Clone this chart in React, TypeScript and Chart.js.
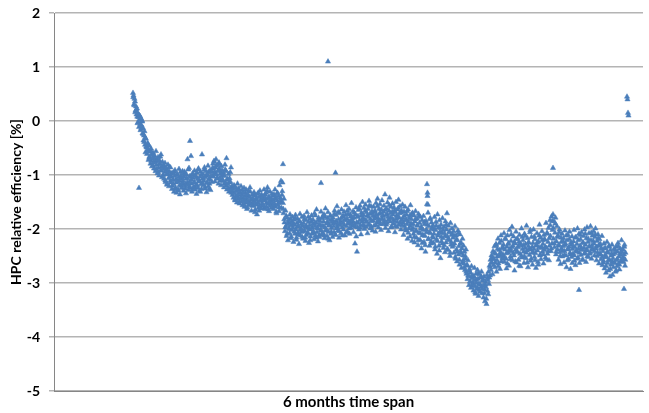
import React, { useEffect, useRef } from "react";
import { Chart, registerables } from "chart.js";

Chart.register(...registerables);

const yTicks = [-5, -4, -3, -2, -1, 0, 1, 2];
const xAxisTitle = "6 months time span";
const yAxisTitle = "HPC relative efficiency [%]";

// main series: two samples per time step
const efficiency = [
  0.52, 0.47, 0.31, 0.41, 0.36, 0.19, 0.27, 0.12, 0.23, -0.04, 0.14, 0.07, -0.11, 0.03, 0.09, -0.17, 0.05, -0.08, 0.01, -0.23,
  -0.13, -0.36, -0.27, -0.19, -0.44, -0.58, -0.33, -0.49, -0.61, -0.41, -0.53, -0.72, -0.46, -0.66, -0.57, -0.79, -0.51, -0.63, -0.84, -0.69,
  -0.59, -0.77, -0.88, -0.64, -0.71, -0.93, -0.56, -0.81, -0.74, -0.97, -0.67, -0.86, -1.01, -0.73, -0.79, -0.91, -0.62, -0.85, -1.04, -0.76,
  -0.89, -0.83, -1.07, -0.95, -0.78, -1.13, -0.87, -0.99, -1.18, -0.92, -0.81, -1.06, -1.21, -0.94, -1.03, -0.86, -1.14, -0.97, -1.26, -1.09,
  -0.96, -1.17, -1.31, -1.02, -0.91, -1.23, -1.08, -1.33, -0.98, -1.12, -1.27, -1.04, -0.89, -1.19, -1.36, -1.07, -1.01, -1.24, -1.15, -0.93,
  -1.11, -1.29, -1.03, -0.94, -1.21, -1.16, -1.34, -0.99, -1.06, -0.71, -1.19, -1.28, -0.87, -1.13, -1.02, -1.24, -0.65, -1.09, -1.31, -0.97,
  -1.05, -1.22, -1.14, -0.92, -1.27, -1.01, -1.18, -1.35, -0.96, -1.08, -1.24, -0.88, -1.12, -1.29, -1.03, -0.94, -1.17, -1.26, -0.62, -1.07,
  -0.98, -1.19, -1.11, -0.86, -1.25, -1.04, -0.93, -1.32, -1.14, -0.99, -0.83, -1.21, -1.07, -1.16, -0.91, -1.28, -1.02, -0.95, -1.13, -0.87,
  -0.79, -1.03, -0.74, -0.94, -1.12, -0.86, -0.71, -0.99, -1.07, -0.82, -0.93, -1.16, -0.77, -0.89, -1.04, -0.97, -1.19, -0.84, -0.91, -1.08,
  -1.11, -0.96, -1.23, -1.02, -0.81, -1.14, -0.93, -0.69, -1.27, -1.09, -1.17, -0.98, -1.31, -1.06, -1.24, -1.13, -0.86, -1.29, -1.21, -1.37,
  -1.26, -1.42, -1.19, -1.34, -1.47, -1.23, -1.39, -1.29, -1.51, -1.16, -1.36, -1.44, -1.27, -1.53, -1.31, -1.41, -1.21, -1.49, -1.37, -1.56,
  -1.33, -1.47, -1.24, -1.59, -1.39, -1.51, -1.27, -1.43, -1.63, -1.36, -1.49, -1.29, -1.56, -1.41, -1.23, -1.53, -1.45, -1.66, -1.37, -1.52,
  -1.43, -1.57, -1.32, -1.49, -1.69, -1.38, -1.54, -1.46, -1.73, -1.35, -1.51, -1.61, -1.41, -1.58, -1.29, -1.47, -1.62, -1.37, -1.53, -1.44,
  -1.39, -1.56, -1.27, -1.47, -1.63, -1.43, -1.33, -1.59, -1.45, -1.23, -1.53, -1.41, -1.67, -1.49, -1.31, -1.57, -1.43, -1.61, -1.35, -1.51,
  -1.46, -1.63, -1.36, -1.53, -1.27, -1.59, -1.41, -1.71, -1.47, -1.33, -1.56, -1.39, -1.67, -1.19, -1.51, -1.45, -1.11, -1.61, -1.37, -1.14,
  -1.52, -1.71, -1.44, -1.88, -2.04, -1.66, -1.95, -2.13, -1.79, -1.91, -2.21, -1.84, -1.99, -2.08, -1.73, -1.93, -2.17, -1.86, -2.02, -1.78,
  -1.97, -2.24, -1.83, -1.92, -2.09, -1.74, -2.01, -2.16, -1.89, -1.81, -2.07, -1.95, -2.28, -1.86, -1.72, -2.12, -1.99, -2.05, -1.78, -1.94,
  -2.18, -1.89, -1.76, -2.03, -1.96, -2.22, -1.84, -2.11, -1.69, -1.98, -2.07, -1.87, -2.26, -1.93, -1.81, -2.14, -2.01, -1.75, -2.09, -1.91,
  -1.83, -2.04, -2.19, -1.71, -1.95, -2.12, -1.88, -1.64, -2.06, -1.99, -2.23, -1.79, -1.92, -2.15, -1.85, -2.02, -1.68, -2.10, -1.94, -1.77,
  -2.08, -1.86, -1.73, -2.17, -1.97, -1.62, -2.01, -1.90, -2.13, -1.80, -1.69, -2.05, -1.94, -2.21, -1.84, -1.75, -2.09, -1.98, -1.87, -2.15,
  -1.79, -1.95, -2.06, -1.66, -1.88, -2.11, -1.74, -1.99, -1.58, -1.91, -2.03, -1.82, -2.16, -1.71, -1.93, -1.85, -2.08, -1.64, -1.97, -1.77,
  -1.89, -2.01, -1.68, -1.83, -2.12, -1.74, -1.56, -1.95, -1.81, -2.05, -1.72, -1.90, -1.63, -2.09, -1.86, -1.77, -1.98, -1.52, -1.84, -1.94,
  -1.67, -2.06, -1.79, -1.91, -2.27, -1.73, -1.60, -1.88, -2.42, -1.97, -1.76, -1.65, -2.01, -1.84, -1.57, -1.93, -2.10, -1.70, -1.82, -1.50,
  -1.92, -1.74, -1.61, -2.00, -1.83, -1.55, -1.96, -1.69, -1.87, -2.08, -1.63, -1.78, -1.48, -1.91, -1.72, -1.99, -1.58, -1.85, -1.67, -2.03,
  -1.76, -1.59, -1.94, -1.81, -1.66, -2.05, -1.52, -1.73, -1.88, -1.44, -1.79, -1.97, -1.63, -1.86, -1.54, -1.70, -2.02, -1.82, -1.47, -1.75,
  -1.91, -1.68, -1.57, -1.84, -1.36, -1.98, -1.74, -1.62, -1.89, -1.51, -1.78, -2.04, -1.66, -1.42, -1.86, -1.71, -1.59, -1.95, -1.80, -1.53,
  -1.73, -1.90, -1.60, -1.85, -2.06, -1.69, -1.50, -1.81, -1.96, -1.64, -1.77, -1.46, -1.92, -1.71, -1.58, -1.87, -2.01, -1.66, -1.83, -1.55,
  -1.79, -2.11, -1.68, -1.95, -1.59, -1.84, -2.03, -1.73, -1.91, -2.18, -1.64, -1.87, -1.99, -1.76, -2.14, -1.56, -1.90, -1.82, -2.22, -1.70,
  -1.98, -2.09, -1.75, -2.25, -1.86, -1.67, -2.03, -2.16, -1.81, -1.94, -2.30, -1.72, -2.07, -1.89, -2.20, -1.78, -1.99, -2.36, -1.84, -2.11,
  -2.02, -1.76, -2.24, -1.91, -2.13, -2.42, -1.85, -2.06, -1.54, -1.39, -1.70, -2.18, -1.95, -2.31, -1.82, -2.08, -2.27, -1.88, -2.00, -2.14,
  -1.93, -2.26, -2.09, -1.78, -2.38, -2.02, -1.87, -2.19, -2.46, -1.73, -2.12, -1.97, -2.31, -1.84, -2.05, -2.54, -1.92, -2.23, -2.07, -1.80,
  -2.17, -2.35, -1.96, -2.08, -2.43, -1.86, -2.25, -2.01, -1.71, -2.14, -2.39, -1.94, -2.21, -2.06, -2.50, -1.89, -2.29, -2.11, -1.99, -2.33,
  -2.16, -2.04, -2.44, -2.27, -1.95, -2.55, -2.12, -2.38, -2.60, -2.21, -2.03, -2.47, -2.32, -2.66, -2.10, -2.41, -2.25, -2.72, -2.36, -2.18,
  -2.49, -2.31, -2.64, -2.42, -2.76, -2.55, -2.38, -2.83, -2.66, -2.93, -2.58, -2.87, -3.04, -2.74, -2.97, -2.81, -3.09, -2.69, -2.91, -3.02,
  -2.86, -3.14, -2.95, -2.72, -3.06, -3.20, -2.83, -2.99, -3.11, -2.76, -2.92, -3.24, -3.01, -2.84, -3.16, -2.90, -3.07, -2.79, -3.19, -2.96,
  -3.05, -3.27, -2.88, -3.12, -3.34, -2.98, -3.08, -3.39, -2.85, -3.15, -2.95, -2.79, -3.02, -2.68, -2.86, -2.57, -2.76, -2.49, -2.63, -2.84,
  -2.41, -2.67, -2.55, -2.32, -2.71, -2.46, -2.28, -2.79, -2.58, -2.37, -2.18, -2.64, -2.50, -2.26, -2.74, -2.43, -2.12, -2.60, -2.35, -2.52,
  -2.47, -2.29, -2.08, -2.61, -2.38, -2.19, -2.55, -2.73, -2.33, -2.12, -2.44, -2.26, -2.68, -2.02, -2.36, -2.51, -2.22, -2.41, -1.96, -2.58,
  -2.31, -2.14, -2.49, -2.77, -2.27, -2.39, -2.05, -2.62, -2.43, -2.18, -2.34, -2.57, -2.24, -2.11, -2.46, -2.69, -2.30, -1.99, -2.53, -2.37,
  -2.21, -2.42, -2.63, -2.09, -2.35, -2.28, -2.54, -1.94, -2.40, -2.17, -2.71, -2.32, -2.25, -2.48, -2.06, -2.59, -2.38, -2.15, -2.44, -2.66,
  -2.26, -2.01, -2.37, -2.52, -2.19, -2.45, -2.72, -2.29, -2.08, -2.40, -2.61, -2.23, -2.34, -1.92, -2.49, -2.16, -2.56, -2.33, -2.04, -2.42,
  -2.28, -2.64, -2.11, -2.39, -2.20, -2.53, -1.89, -2.35, -2.07, -2.46, -2.24, -1.98, -2.58, -2.31, -1.84, -2.13, -2.41, -1.77, -2.27, -2.02,
  -1.73, -2.18, -1.86, -2.34, -2.07, -1.79, -2.47, -2.23, -1.95, -2.38, -2.12, -2.57, -2.29, -2.01, -2.43, -2.65, -2.16, -2.36, -2.09, -2.51,
  -2.32, -2.17, -2.62, -2.41, -2.03, -2.27, -2.49, -2.71, -2.21, -2.38, -2.11, -2.56, -2.33, -2.05, -2.44, -2.74, -2.25, -2.52, -2.14, -2.37,
  -2.46, -2.23, -2.02, -2.59, -2.34, -2.67, -2.15, -2.42, -2.28, -1.99, -2.53, -2.37, -2.09, -2.63, -2.31, -2.19, -2.48, -2.06, -2.39, -2.26,
  -2.57, -2.13, -2.35, -2.01, -2.44, -2.29, -2.61, -2.17, -1.97, -2.40, -2.24, -2.52, -2.08, -2.33, -2.46, -1.95, -2.21, -2.55, -2.30, -2.12,
  -2.38, -2.04, -2.27, -2.49, -2.15, -1.99, -2.36, -2.58, -2.22, -2.43, -2.10, -2.31, -2.64, -2.19, -2.45, -2.28, -2.56, -2.37, -2.13, -2.67,
  -2.41, -2.59, -2.27, -2.73, -2.48, -2.35, -2.81, -2.52, -2.24, -2.63, -2.44, -2.77, -2.31, -2.57, -2.88, -2.39, -2.66, -2.46, -2.29, -2.85,
  -2.54, -2.71, -2.37, -2.62, -2.45, -2.79, -2.33, -2.58, -2.69, -2.42, -2.26, -2.64, -2.51, -2.75, -2.36, -2.48, -2.59, -2.21, -2.43, -2.55,
  -2.38, -2.61, -2.47, -2.29, -2.68, -2.44,
];

// additional readings taken between the main samples (one per time step)
const efficiencyExtra = [
  0.44, 0.29, 0.16, 0.21, 0.08, -0.02, 0.11, -0.06, -0.14, -0.01,
  -0.24, -0.39, -0.31, -0.47, -0.55, -0.43, -0.68, -0.54, -0.74, -0.61,
  -0.83, -0.69, -0.75, -0.89, -0.71, -0.95, -0.80, -0.66, -0.92, -0.84,
  -1.00, -0.84, -1.10, -0.90, -1.16, -0.98, -0.85, -1.11, -1.02, -1.20,
  -1.09, -0.94, -1.26, -1.14, -1.00, -1.29, -1.10, -0.95, -1.20, -1.06,
  -1.17, -0.97, -1.25, -1.07, -1.14, -0.90, -1.22, -1.04, -1.16, -1.27,
  -0.99, -1.13, -1.23, -1.04, -1.19, -0.90, -1.10, -1.31, -1.00, -1.15,
  -1.06, -0.90, -1.22, -1.01, -1.15, -0.95, -1.26, -1.09, -0.92, -1.03,
  -0.88, -0.76, -0.97, -0.83, -1.05, -0.91, -0.80, -1.10, -0.96, -1.01,
  -1.00, -1.16, -0.90, -1.20, -1.07, -1.25, -1.14, -0.95, -1.33, -1.22,
  -1.33, -1.21, -1.45, -1.30, -1.41, -1.25, -1.49, -1.34, -1.43, -1.28,
  -1.42, -1.55, -1.33, -1.47, -1.60, -1.38, -1.52, -1.31, -1.46, -1.57,
  -1.50, -1.36, -1.64, -1.43, -1.55, -1.33, -1.66, -1.48, -1.39, -1.57,
  -1.45, -1.60, -1.36, -1.52, -1.29, -1.64, -1.41, -1.55, -1.47, -1.58,
  -1.38, -1.56, -1.44, -1.68, -1.34, -1.52, -1.60, -1.42, -1.50, -1.30,
  -1.63, -1.82, -1.97, -1.76, -2.09, -1.88, -2.00, -1.81, -2.14, -1.92,
  -1.90, -2.05, -1.80, -2.20, -1.96, -2.10, -1.85, -2.02, -1.91, -2.15,
  -2.05, -1.82, -2.16, -1.94, -2.08, -1.78, -2.00, -2.21, -1.86, -1.97,
  -2.07, -1.90, -1.75, -2.16, -1.97, -1.84, -2.11, -1.93, -2.03, -1.80,
  -1.95, -2.12, -1.78, -2.03, -1.87, -2.18, -1.92, -1.76, -2.05, -1.83,
  -1.90, -1.72, -2.10, -1.85, -1.96, -1.69, -2.04, -1.89, -1.80, -2.12,
  -1.76, -1.93, -1.84, -2.06, -1.66, -1.87, -1.99, -1.73, -1.91, -1.80,
  -1.87, -1.70, -1.96, -2.14, -1.78, -1.89, -1.62, -1.98, -1.75, -1.86,
  -1.80, -1.95, -1.66, -1.86, -1.75, -1.93, -1.57, -1.82, -1.96, -1.71,
  -1.85, -1.69, -1.77, -1.93, -1.58, -1.84, -1.72, -1.91, -1.64, -1.81,
  -1.76, -1.88, -1.65, -1.92, -1.72, -1.83, -1.56, -1.79, -1.97, -1.68,
  -1.84, -1.66, -1.95, -1.76, -1.87, -1.61, -1.79, -1.89, -1.70, -1.93,
  -1.88, -1.76, -2.00, -1.83, -1.67, -2.07, -1.80, -1.95, -1.73, -2.02,
  -1.91, -2.15, -1.82, -2.04, -1.93, -2.21, -1.76, -2.08, -1.96, -2.26,
  -2.12, -1.87, -2.30, -2.01, -1.92, -2.19, -2.06, -1.80, -2.23, -1.97,
  -2.16, -2.01, -2.33, -1.94, -2.22, -2.09, -2.40, -1.98, -2.15, -2.27,
  -2.02, -2.30, -2.13, -1.92, -2.37, -2.18, -2.05, -2.44, -2.24, -2.09,
  -2.30, -2.13, -2.52, -2.20, -2.42, -2.08, -2.57, -2.28, -2.45, -2.62,
  -2.58, -2.71, -2.50, -2.79, -2.68, -2.86, -2.77, -2.98, -2.88, -3.05,
  -3.00, -2.89, -3.17, -2.94, -3.08, -2.82, -3.13, -3.03, -2.88, -3.10,
  -2.93, -3.19, -3.03, -3.29, -2.91, -3.21, -2.90, -2.71, -2.62, -2.53,
  -2.56, -2.44, -2.62, -2.30, -2.51, -2.69, -2.39, -2.47, -2.22, -2.55,
  -2.35, -2.52, -2.17, -2.45, -2.64, -2.28, -2.40, -2.56, -2.10, -2.34,
  -2.45, -2.24, -2.60, -2.19, -2.41, -2.32, -2.68, -2.27, -2.50, -2.15,
  -2.30, -2.51, -2.13, -2.44, -2.62, -2.25, -2.37, -2.02, -2.55, -2.33,
  -2.43, -2.14, -2.58, -2.31, -2.25, -2.66, -2.12, -2.47, -2.35, -2.21,
  -2.47, -2.19, -2.33, -2.56, -2.09, -2.41, -2.17, -1.93, -2.36, -1.85,
  -1.98, -2.27, -1.90, -2.42, -2.15, -2.31, -2.06, -2.50, -2.24, -2.40,
  -2.23, -2.48, -2.30, -2.12, -2.58, -2.36, -2.19, -2.47, -2.29, -2.63,
  -2.32, -2.49, -2.16, -2.40, -2.55, -2.21, -2.44, -2.11, -2.35, -2.57,
  -2.25, -2.46, -2.09, -2.38, -2.51, -2.18, -2.32, -2.43, -2.07, -2.36,
  -2.22, -2.41, -2.10, -2.33, -2.50, -2.17, -2.29, -2.47, -2.35, -2.52,
  -2.62, -2.36, -2.52, -2.69, -2.42, -2.58, -2.33, -2.74, -2.49, -2.60,
  -2.47, -2.63, -2.39, -2.77, -2.55, -2.32, -2.66, -2.45, -2.60, -2.38,
  -2.52, -2.33, -2.57,
];

// isolated readings: sample index and value
const outlierIndex = [12, 114, 300, 376, 390, 405, 588, 589, 590, 840, 892, 982, 988, 989, 990, 991];
const outlierValue = [-1.24, -0.37, -0.80, -1.15, 1.10, -0.96, -1.17, -1.33, -1.55, -0.87, -3.13, -3.11, 0.45, 0.40, 0.15, 0.10];

const xMin = -158;
const xMax = 1020;

const FONT = "Lato, 'Open Sans', 'DejaVu Sans', sans-serif";
const MARKER = "#4a7ebb";

export default function App() {
  const ref = useRef<HTMLCanvasElement | null>(null);

  useEffect(() => {
    const canvas = ref.current;
    if (!canvas) return;
    const mainPoints = efficiency.map((v, i) => ({ x: i, y: v }));
    const extraPoints = efficiencyExtra.map((v, k) => ({ x: 2 * k + 0.5, y: v }));
    const outPoints = outlierIndex.map((x, i) => ({ x, y: outlierValue[i] }));
    const style = {
      pointStyle: "triangle" as const,
      pointRadius: 3,
      borderWidth: 0.5,
      backgroundColor: MARKER,
      borderColor: MARKER,
    };
    const chart = new Chart(canvas, {
      type: "scatter",
      data: {
        datasets: [
          { data: mainPoints, ...style },
          { data: extraPoints, ...style },
          { data: outPoints, ...style },
        ],
      },
      options: {
        animation: false,
        responsive: false,
        maintainAspectRatio: false,
        layout: { padding: { left: 0, right: 6, top: 13, bottom: 0 } },
        plugins: { legend: { display: false }, tooltip: { enabled: false } },
        scales: {
          x: {
            type: "linear",
            min: xMin,
            max: xMax,
            ticks: { display: false },
            grid: { display: false, drawTicks: false },
            border: { display: true, color: "#868686", width: 1 },
            title: {
              display: true,
              text: xAxisTitle,
              color: "#000",
              font: { family: FONT, size: 15, weight: "bold" },
              padding: { top: 0, bottom: 2 },
            },
            afterFit: (s: any) => {
              s.height = 22;
            },
          },
          y: {
            type: "linear",
            min: yTicks[0],
            max: yTicks[yTicks.length - 1],
            ticks: {
              stepSize: 1,
              color: "#000",
              font: { family: FONT, size: 14, weight: "bold" },
              padding: 9,
            },
            grid: { color: "#b4b4b4", lineWidth: 1.5, tickLength: 5, drawTicks: true },
            border: { display: true, color: "#868686", width: 1 },
            title: {
              display: true,
              text: yAxisTitle,
              color: "#000",
              font: { family: FONT, size: 14, weight: "bold" },
              padding: { top: 8, bottom: 0 },
            },
            afterFit: (s: any) => {
              s.width = 54;
              s.paddingTop = 0;
            },
          },
        },
      },
    });
    return () => chart.destroy();
  }, []);

  return (
    <div style={{ position: "absolute", left: 0, top: 0, width: 649, height: 413, background: "#fff" }}>
      <canvas ref={ref} width={649} height={413} style={{ display: "block" }} />
    </div>
  );
}
